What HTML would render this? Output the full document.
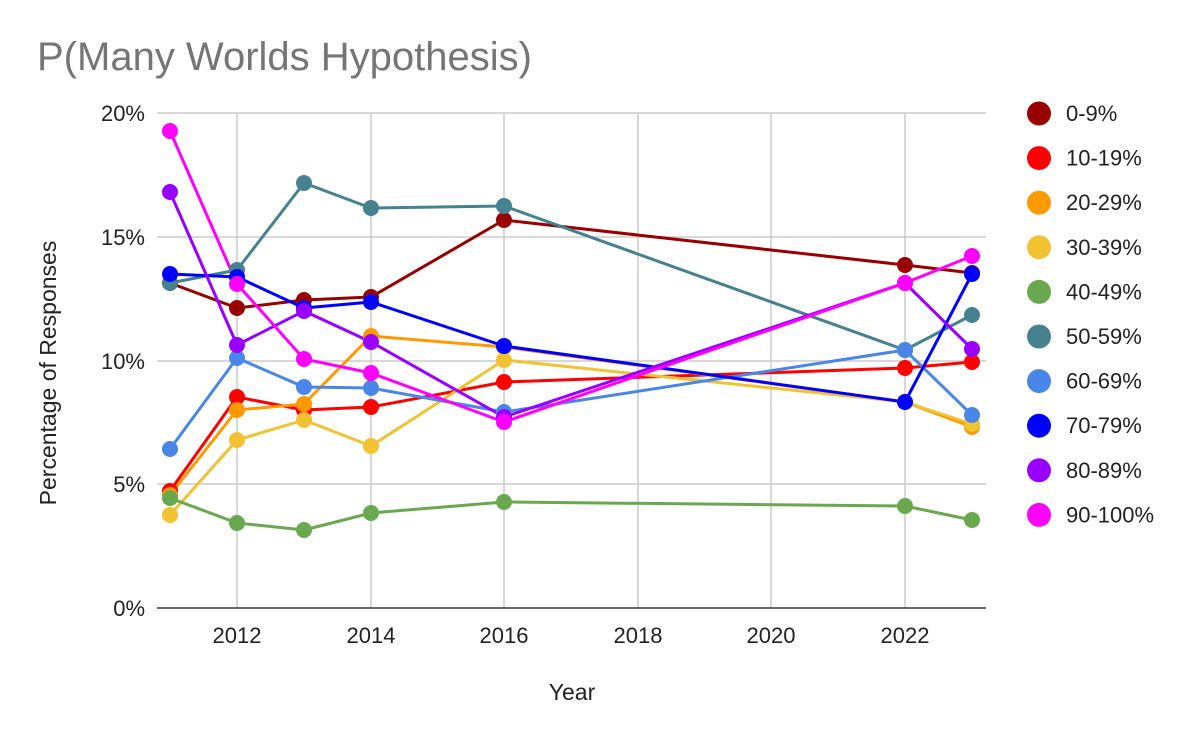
<!DOCTYPE html>
<html><head><meta charset="utf-8"><style>body{margin:0;background:#fff}svg{display:block}text{font-family:"Liberation Sans",Arial,sans-serif}</style></head><body>
<svg width="1200" height="742" xmlns="http://www.w3.org/2000/svg">
<rect width="1200" height="742" fill="#fff"/>
<text x="37" y="70" font-size="40" fill="#757575">P(Many Worlds Hypothesis)</text>
<g stroke="#ccc" stroke-width="1.5">
<line x1="157" x2="986" y1="113" y2="113"/><line x1="157" x2="986" y1="237" y2="237"/><line x1="157" x2="986" y1="361" y2="361"/><line x1="157" x2="986" y1="484" y2="484"/>
<line x1="237" x2="237" y1="113" y2="608"/><line x1="371" x2="371" y1="113" y2="608"/><line x1="504" x2="504" y1="113" y2="608"/><line x1="638" x2="638" y1="113" y2="608"/><line x1="771" x2="771" y1="113" y2="608"/><line x1="905" x2="905" y1="113" y2="608"/>
</g>
<line x1="157" x2="986" y1="608" y2="608" stroke="#333" stroke-width="1.5"/>
<g font-size="22" fill="#222" text-anchor="end">
<text x="145" y="121">20%</text><text x="145" y="245">15%</text><text x="145" y="369">10%</text><text x="145" y="492">5%</text><text x="145" y="616">0%</text>
</g>
<g font-size="22" fill="#222" text-anchor="middle">
<text x="237" y="643">2012</text><text x="371" y="643">2014</text><text x="504" y="643">2016</text><text x="638" y="643">2018</text><text x="771" y="643">2020</text><text x="905" y="643">2022</text>
<text x="572" y="700" font-size="23">Year</text>
</g>
<text transform="translate(56,373) rotate(-90)" font-size="23" fill="#222" text-anchor="middle">Percentage of Responses</text>
<g fill="none" stroke-width="3" stroke-linejoin="round">
<polyline stroke="#990000" points="170,283 237,308 304,300 371,297 504,220 905,265 972,273"/>
<polyline stroke="#ff0000" points="170,491 237,397 304,410 371,407 504,382 905,368 972,362"/>
<polyline stroke="#ff9900" points="170,495 237,410 304,404 371,336 504,347 905,402 972,427"/>
<polyline stroke="#f1c232" points="170,515 237,440 304,420 371,446 504,360 905,402 972,424"/>
<polyline stroke="#6aa84f" points="170,498 237,523 304,530 371,513 504,502 905,506 972,520"/>
<polyline stroke="#45818e" points="170,283 237,270 304,183 371,208 504,206 905,350 972,315"/>
<polyline stroke="#4a86e8" points="170,449 237,358 304,387 371,388 504,412 905,350 972,415"/>
<polyline stroke="#0000ff" points="170,274 237,277 304,308 371,302 504,346 905,402 972,274"/>
<polyline stroke="#9900ff" points="170,192 237,345 304,311 371,342 504,417 905,283 972,349"/>
<polyline stroke="#ff00ff" points="170,131 237,284 304,359 371,373 504,422 905,283 972,256"/>
</g>
<g fill="#990000"><circle cx="170" cy="283" r="8"/><circle cx="237" cy="308" r="8"/><circle cx="304" cy="300" r="8"/><circle cx="371" cy="297" r="8"/><circle cx="504" cy="220" r="8"/><circle cx="905" cy="265" r="8"/><circle cx="972" cy="273" r="8"/></g>
<g fill="#ff0000"><circle cx="170" cy="491" r="8"/><circle cx="237" cy="397" r="8"/><circle cx="304" cy="410" r="8"/><circle cx="371" cy="407" r="8"/><circle cx="504" cy="382" r="8"/><circle cx="905" cy="368" r="8"/><circle cx="972" cy="362" r="8"/></g>
<g fill="#ff9900"><circle cx="170" cy="495" r="8"/><circle cx="237" cy="410" r="8"/><circle cx="304" cy="404" r="8"/><circle cx="371" cy="336" r="8"/><circle cx="504" cy="347" r="8"/><circle cx="905" cy="402" r="8"/><circle cx="972" cy="427" r="8"/></g>
<g fill="#f1c232"><circle cx="170" cy="515" r="8"/><circle cx="237" cy="440" r="8"/><circle cx="304" cy="420" r="8"/><circle cx="371" cy="446" r="8"/><circle cx="504" cy="360" r="8"/><circle cx="905" cy="402" r="8"/><circle cx="972" cy="424" r="8"/></g>
<g fill="#6aa84f"><circle cx="170" cy="498" r="8"/><circle cx="237" cy="523" r="8"/><circle cx="304" cy="530" r="8"/><circle cx="371" cy="513" r="8"/><circle cx="504" cy="502" r="8"/><circle cx="905" cy="506" r="8"/><circle cx="972" cy="520" r="8"/></g>
<g fill="#45818e"><circle cx="170" cy="283" r="8"/><circle cx="237" cy="270" r="8"/><circle cx="304" cy="183" r="8"/><circle cx="371" cy="208" r="8"/><circle cx="504" cy="206" r="8"/><circle cx="905" cy="350" r="8"/><circle cx="972" cy="315" r="8"/></g>
<g fill="#4a86e8"><circle cx="170" cy="449" r="8"/><circle cx="237" cy="358" r="8"/><circle cx="304" cy="387" r="8"/><circle cx="371" cy="388" r="8"/><circle cx="504" cy="412" r="8"/><circle cx="905" cy="350" r="8"/><circle cx="972" cy="415" r="8"/></g>
<g fill="#0000ff"><circle cx="170" cy="274" r="8"/><circle cx="237" cy="277" r="8"/><circle cx="304" cy="308" r="8"/><circle cx="371" cy="302" r="8"/><circle cx="504" cy="346" r="8"/><circle cx="905" cy="402" r="8"/><circle cx="972" cy="274" r="8"/></g>
<g fill="#9900ff"><circle cx="170" cy="192" r="8"/><circle cx="237" cy="345" r="8"/><circle cx="304" cy="311" r="8"/><circle cx="371" cy="342" r="8"/><circle cx="504" cy="417" r="8"/><circle cx="905" cy="283" r="8"/><circle cx="972" cy="349" r="8"/></g>
<g fill="#ff00ff"><circle cx="170" cy="131" r="8"/><circle cx="237" cy="284" r="8"/><circle cx="304" cy="359" r="8"/><circle cx="371" cy="373" r="8"/><circle cx="504" cy="422" r="8"/><circle cx="905" cy="283" r="8"/><circle cx="972" cy="256" r="8"/></g>
<g font-size="22" fill="#222">
<circle cx="1039" cy="113.5" r="12" fill="#990000"/><text x="1066" y="121">0-9%</text>
<circle cx="1039" cy="158.1" r="12" fill="#ff0000"/><text x="1066" y="165.6">10-19%</text>
<circle cx="1039" cy="202.7" r="12" fill="#ff9900"/><text x="1066" y="210.2">20-29%</text>
<circle cx="1039" cy="247.3" r="12" fill="#f1c232"/><text x="1066" y="254.8">30-39%</text>
<circle cx="1039" cy="291.9" r="12" fill="#6aa84f"/><text x="1066" y="299.4">40-49%</text>
<circle cx="1039" cy="336.5" r="12" fill="#45818e"/><text x="1066" y="344">50-59%</text>
<circle cx="1039" cy="381.1" r="12" fill="#4a86e8"/><text x="1066" y="388.6">60-69%</text>
<circle cx="1039" cy="425.7" r="12" fill="#0000ff"/><text x="1066" y="433.2">70-79%</text>
<circle cx="1039" cy="470.3" r="12" fill="#9900ff"/><text x="1066" y="477.8">80-89%</text>
<circle cx="1039" cy="514.9" r="12" fill="#ff00ff"/><text x="1066" y="522.4">90-100%</text>
</g>
</svg>
</body></html>
